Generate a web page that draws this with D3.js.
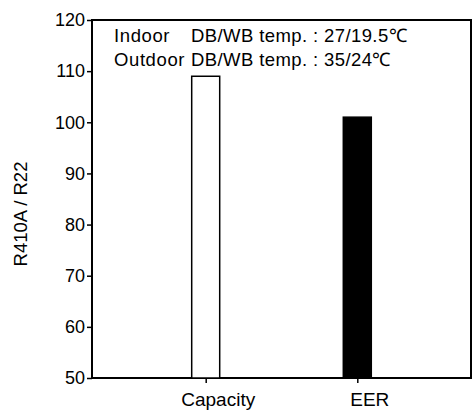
<!DOCTYPE html>
<html>
<head>
<meta charset="utf-8">
<script src="https://cdn.jsdelivr.net/npm/d3@7"></script>
<style>
  body { margin: 0; background: #fff; }
  svg text { font-family: "Liberation Sans", Arial, sans-serif; fill: #000; }
</style>
</head>
<body>
<div class="container"></div>
<script>
var width = 473;
var height = 413;
var margin = {top: 20, right: 2, bottom: 35, left: 92};

// data
var categories = ["Capacity", "EER"];
var ratios = [109, 101];
var fills = ["#fff", "#000"];
var yTicks = [50, 60, 70, 80, 90, 100, 110, 120];
var noteLabels = ["Indoor", "Outdoor"];
var noteValues = ["DB/WB temp. : 27/19.5\u2103", "DB/WB temp. : 35/24\u2103"];

var svg = d3.select(".container")
  .append("svg")
  .attr("width", width)
  .attr("height", height);

//-----------------------------------------
// SCALES & AXES
var xScale = d3.scalePoint()
  .domain(categories)
  .range([margin.left, width - margin.right])
  .padding(0.75);
var yScale = d3.scaleLinear()
  .domain([50, 120])
  .range([height - margin.bottom, margin.top]);

var xAxis = d3.axisBottom(xScale).tickSize(5).tickSizeOuter(0).tickPadding(10);
var yAxis = d3.axisLeft(yScale).tickValues(yTicks).tickSize(5).tickSizeOuter(0).tickPadding(2);

var gx = svg.append("g")
  .attr("transform", "translate(0," + (height - margin.bottom) + ")")
  .call(xAxis);
gx.selectAll("text").attr("font-size", 19).attr("dx", 12);

var gy = svg.append("g")
  .attr("transform", "translate(" + margin.left + ",0)")
  .call(yAxis);
gy.selectAll("text").attr("font-size", 18);

svg.selectAll(".domain").remove();
svg.selectAll(".tick line").attr("stroke", "#000").attr("stroke-width", 1.5);

// frame
svg.append("rect")
  .attr("x", margin.left)
  .attr("y", margin.top)
  .attr("width", width - margin.left - margin.right)
  .attr("height", height - margin.top - margin.bottom)
  .attr("fill", "none")
  .attr("stroke", "#000")
  .attr("stroke-width", 2);

//-----------------------------------------
// BARS
var barW = 28;
svg.selectAll(".bar")
  .data(ratios)
  .enter()
  .append("rect")
  .attr("class", "bar")
  .attr("x", (d, i) => xScale(categories[i]) - barW / 2)
  .attr("y", (d) => yScale(d))
  .attr("width", barW)
  .attr("height", (d) => yScale(50) - yScale(d))
  .attr("fill", (d, i) => fills[i])
  .attr("stroke", "#000")
  .attr("stroke-width", 1.5);

//-----------------------------------------
// NOTES & TITLE
svg.selectAll(".note-label")
  .data(noteLabels)
  .enter()
  .append("text")
  .attr("x", 114)
  .attr("y", (d, i) => 42 + i * 24)
  .attr("font-size", 18.5)
  .attr("letter-spacing", 0.6)
  .text((d) => d);

svg.selectAll(".note-value")
  .data(noteValues)
  .enter()
  .append("text")
  .attr("x", 191)
  .attr("y", (d, i) => 42 + i * 24)
  .attr("font-size", 18.5)
  .attr("letter-spacing", 0.4)
  .text((d) => d);

svg.append("text")
  .attr("transform", "translate(27,214) rotate(-90)")
  .attr("text-anchor", "middle")
  .attr("font-size", 18.5)
  .text("R410A / R22");
</script>
</body>
</html>
